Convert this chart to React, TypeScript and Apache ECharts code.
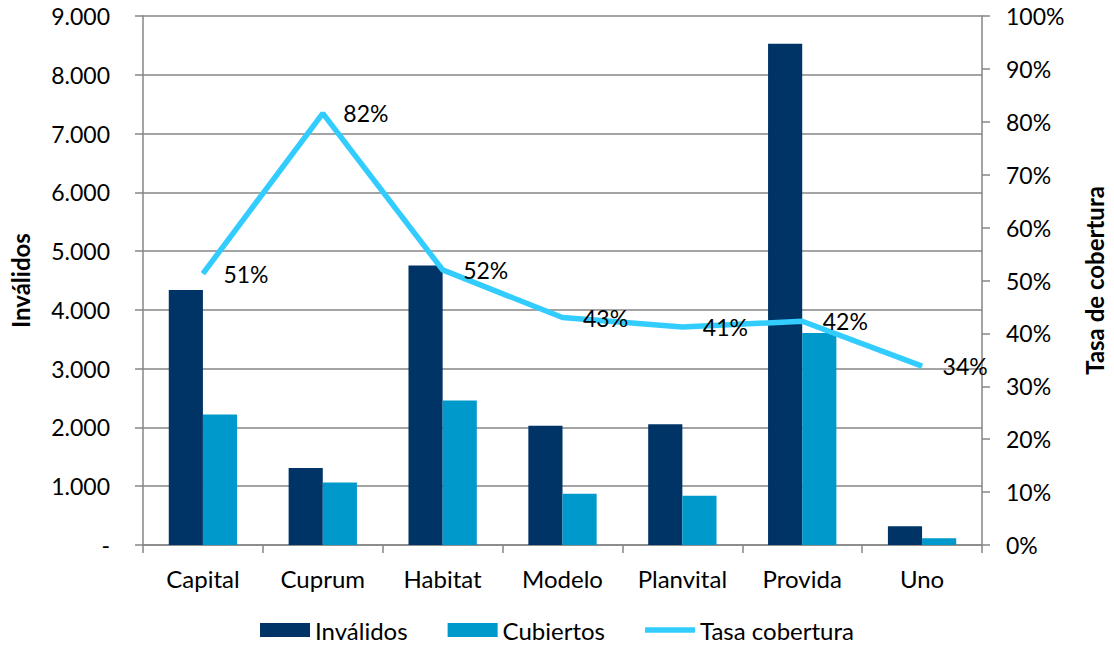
import React, { useEffect, useRef } from "react";
import * as echarts from "echarts";

const categories = ["Capital", "Cuprum", "Habitat", "Modelo", "Planvital", "Provida", "Uno"];
const invalidos = [4340, 1310, 4755, 2030, 2055, 8530, 320];
const cubiertos = [2220, 1065, 2460, 870, 840, 3605, 115];
const tasaCobertura = [0.513, 0.816, 0.52, 0.43, 0.412, 0.423, 0.338];

const FONT = "Lato, 'Open Sans', sans-serif";
const FS = 23;

export default function App() {
  const ref = useRef<HTMLDivElement>(null);
  useEffect(() => {
    if (!ref.current) return;
    const chart = echarts.init(ref.current, null, { renderer: "svg" });
    chart.setOption({
      animation: false,
      textStyle: { fontFamily: FONT, color: "#000" },
      grid: { left: 143, right: 124, top: 16, bottom: 104, containLabel: false },
      legend: {
        bottom: 2,
        left: "center",
        itemWidth: 50,
        itemHeight: 14,
        itemGap: 40,
        textStyle: { fontSize: 24, color: "#000", fontFamily: FONT },
        data: [
          { name: "Inválidos", icon: "rect" },
          { name: "Cubiertos", icon: "rect" },
          {
            name: "Tasa cobertura",
            icon: "path://M0,4.2h50v5.6h-50z M0,0L0,0 M0,14L0,14",
            itemStyle: { color: "#33CCFF" },
          },
        ],
      },
      xAxis: {
        type: "category",
        data: categories,
        axisLine: { lineStyle: { color: "#868686", width: 1.5 } },
        axisTick: { show: true, length: 8, lineStyle: { color: "#868686", width: 1.5 } },
        axisLabel: { fontSize: 24, color: "#000", margin: 21, fontFamily: FONT },
      },
      yAxis: [
        {
          type: "value",
          min: 0,
          max: 9000,
          interval: 1000,
          name: "Inválidos",
          nameLocation: "middle",
          nameRotate: 90,
          nameGap: 111,
          nameTextStyle: { fontSize: 24, fontWeight: "bold", color: "#000", fontFamily: FONT },
          axisLine: { show: true, lineStyle: { color: "#868686", width: 1.5 } },
          axisTick: { show: true, length: 8, lineStyle: { color: "#868686", width: 1.5 } },
          splitLine: { show: true, lineStyle: { color: "#868686", width: 1.5 } },
          axisLabel: {
            fontSize: FS,
            color: "#000",
            margin: 33,
            fontFamily: FONT,
            formatter: (v: number) =>
              v === 0 ? "-" : v.toLocaleString("de-DE"),
          },
        },
        {
          type: "value",
          min: 0,
          max: 1,
          interval: 0.1,
          position: "right",
          name: "Tasa de cobertura",
          nameLocation: "middle",
          nameRotate: 90,
          nameGap: 100,
          nameTextStyle: { fontSize: 24, fontWeight: "bold", color: "#000", fontFamily: FONT },
          axisLine: { show: true, lineStyle: { color: "#868686", width: 1.5 } },
          axisTick: { show: true, length: 8, lineStyle: { color: "#868686", width: 1.5 } },
          splitLine: { show: false },
          axisLabel: {
            fontSize: FS,
            color: "#000",
            margin: 24,
            fontFamily: FONT,
            formatter: (v: number) => Math.round(v * 100) + "%",
          },
        },
      ],
      series: [
        {
          name: "Inválidos",
          type: "bar",
          data: invalidos,
          barGap: "0%",
          barCategoryGap: "43%",
          itemStyle: { color: "#003366" },
        },
        {
          name: "Cubiertos",
          type: "bar",
          data: cubiertos,
          itemStyle: { color: "#0099CC" },
        },
        {
          name: "Tasa cobertura",
          type: "line",
          yAxisIndex: 1,
          data: tasaCobertura,
          symbol: "circle",
          symbolSize: 1,
          showSymbol: true,
          lineStyle: { color: "#33CCFF", width: 5.5 },
          itemStyle: { color: "#33CCFF" },
          label: {
            show: true,
            position: "right",
            distance: 20,
            fontSize: FS,
            color: "#000",
            fontFamily: FONT,
            formatter: (p: any) => Math.round(p.value * 100) + "%",
          },
        },
      ],
    });
    return () => chart.dispose();
  }, []);
  return (
    <div
      ref={ref}
      style={{ position: "absolute", left: 0, top: 0, width: 1114, height: 649 }}
    />
  );
}
